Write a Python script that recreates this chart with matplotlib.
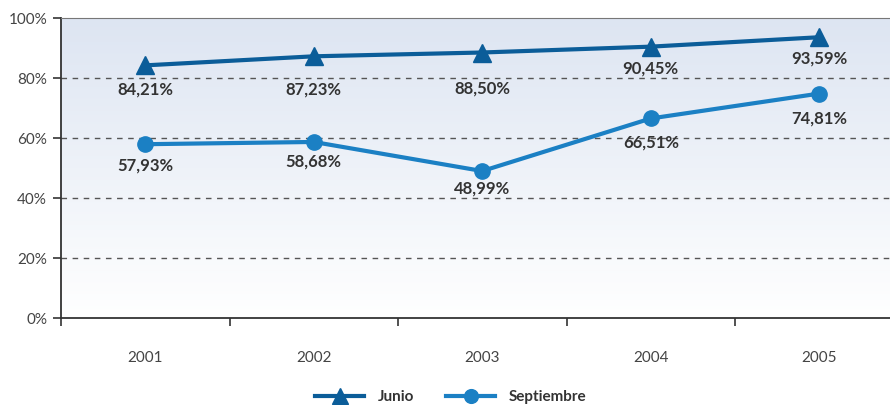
import numpy as np
import matplotlib
matplotlib.use("Agg")
import matplotlib.pyplot as plt
from matplotlib.ticker import FixedLocator, FuncFormatter

# data
years = ["2001", "2002", "2003", "2004", "2005"]
junio = [84.21, 87.23, 88.50, 90.45, 93.59]
septiembre = [57.93, 58.68, 48.99, 66.51, 74.81]

# label drop below the marker, in pixels
junio_drop = [24, 33, 36, 22, 21]
sept_drop = [21, 20, 17, 24, 25]

c_junio = "#0b5d99"
c_sept = "#1b80c4"
txt = "#333333"

plt.rcParams["font.family"] = ["Lato", "DejaVu Sans"]

fig = plt.figure(figsize=(8.9, 4.05), dpi=100)
ax = fig.add_axes([61 / 890, 87 / 405, 842.5 / 890, 300 / 405])

x = np.arange(len(years))
ax.set_xlim(-0.5, 4.5)
ax.set_ylim(0, 100)

# background gradient
grad = np.linspace(1, 0, 256).reshape(-1, 1)
cmap = matplotlib.colors.LinearSegmentedColormap.from_list("bg", ["#ffffff", "#dde5f2"])
ax.imshow(grad, extent=[-0.5, 4.5, 0, 100], aspect="auto", cmap=cmap, zorder=0, origin="upper")

for yv in [20, 40, 60, 80]:
    ax.axhline(yv, color="#555555", lw=1, ls=(0, (4, 4)), zorder=1)

ax.plot(x, junio, color=c_junio, lw=3, marker="^", ms=13, zorder=3, label="Junio")
ax.plot(x, septiembre, color=c_sept, lw=3, marker="o", ms=11, zorder=3, label="Septiembre")

def fmt(v):
    return f"{v:.2f}%".replace(".", ",")

for i, v in enumerate(junio):
    ax.annotate(fmt(v), (i, v), xytext=(0, -junio_drop[i] * 0.72), textcoords="offset points",
                ha="center", va="center", fontsize=12, fontweight="bold", color=txt, zorder=4)
for i, v in enumerate(septiembre):
    ax.annotate(fmt(v), (i, v), xytext=(0, -sept_drop[i] * 0.72), textcoords="offset points",
                ha="center", va="center", fontsize=12, fontweight="bold", color=txt, zorder=4)

# axes styling
for s in ["left", "bottom"]:
    ax.spines[s].set_color("#333333")
    ax.spines[s].set_linewidth(1.3)
ax.spines["top"].set_color("#777777")
ax.spines["right"].set_visible(False)

ax.yaxis.set_major_locator(FixedLocator([0, 20, 40, 60, 80, 100]))
ax.yaxis.set_major_formatter(FuncFormatter(lambda v, p: f"{int(v)}%"))
ax.tick_params(axis="y", direction="out", length=6, width=1.2, color="#333333",
               labelsize=11, labelcolor="#444444", pad=4)

ax.set_xticks(x)
ax.set_xticklabels(years)
ax.xaxis.set_minor_locator(FixedLocator(np.arange(-0.5, 5, 1.0)))
ax.tick_params(axis="x", which="major", length=0, pad=24, labelsize=11, labelcolor="#444444")
ax.tick_params(axis="x", which="minor", direction="out", length=6, width=1.2, color="#333333")

leg = fig.legend(loc="center", bbox_to_anchor=(451 / 890, 8 / 405), ncol=2, frameon=False,
                 handlelength=3.2, handletextpad=0.9, columnspacing=2.1,
                 prop={"weight": "bold", "size": 11}, markerscale=0.9)
for t in leg.get_texts():
    t.set_color(txt)

fig.savefig("out.png", dpi=100)
